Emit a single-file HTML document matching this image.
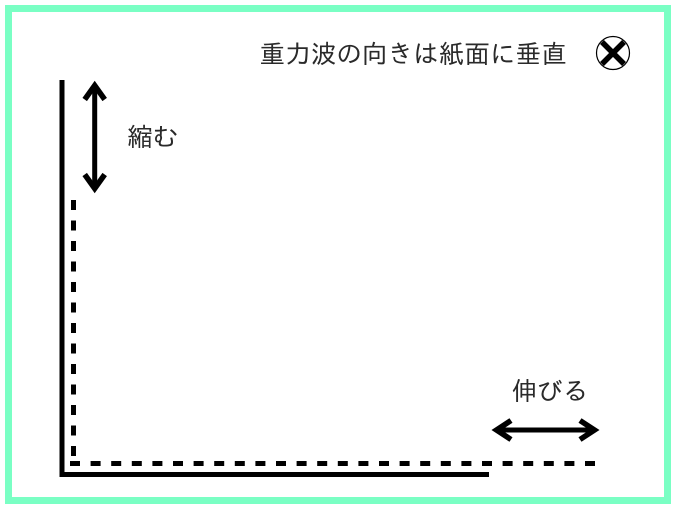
<!DOCTYPE html>
<html lang="ja">
<head>
<meta charset="utf-8">
<style>
html,body{margin:0;padding:0;background:#fff;}
body{width:676px;height:512px;overflow:hidden;}
svg{display:block;}
text{font-family:"Liberation Sans","IPAGothic","Noto Sans CJK JP",sans-serif;font-size:25.6px;fill:#2a2a2a;}
</style>
</head>
<body>
<svg width="676" height="512" viewBox="0 0 676 512" xmlns="http://www.w3.org/2000/svg">
<rect width="676" height="512" fill="#fff"/>
<rect x="8.5" y="8.5" width="659" height="492" fill="none" stroke="#7affc4" stroke-width="7"/>
<path d="M62 80V474.5H489" fill="none" stroke="#000" stroke-width="5"/>
<path d="M73.5 200V456" fill="none" stroke="#000" stroke-width="5" stroke-dasharray="10 10.5"/>
<path d="M70 463.5H596" fill="none" stroke="#000" stroke-width="5" stroke-dasharray="10 10.6"/>
<path d="M94.7 88V186" fill="none" stroke="#000" stroke-width="5"/>
<path d="M84.7 99.5L94.7 85.5L104.7 99.5M84.7 174.5L94.7 188.5L104.7 174.5" fill="none" stroke="#000" stroke-width="5.5"/>
<path d="M499 430H592" fill="none" stroke="#000" stroke-width="5"/>
<path d="M511 420.5L496.5 430L511 439.5M580 420.5L594.5 430L580 439.5" fill="none" stroke="#000" stroke-width="5.5"/>
<circle cx="613" cy="53" r="16.5" fill="#fff" stroke="#000" stroke-width="1.2"/>
<path d="M602 42L624 64M624 42L602 64" stroke="#000" stroke-width="5.5"/>
<text x="259.5" y="63">重力波の向きは紙面に垂直</text>
<text x="127" y="146">縮む</text>
<text x="511.5" y="400">伸びる</text>
</svg>
</body>
</html>
